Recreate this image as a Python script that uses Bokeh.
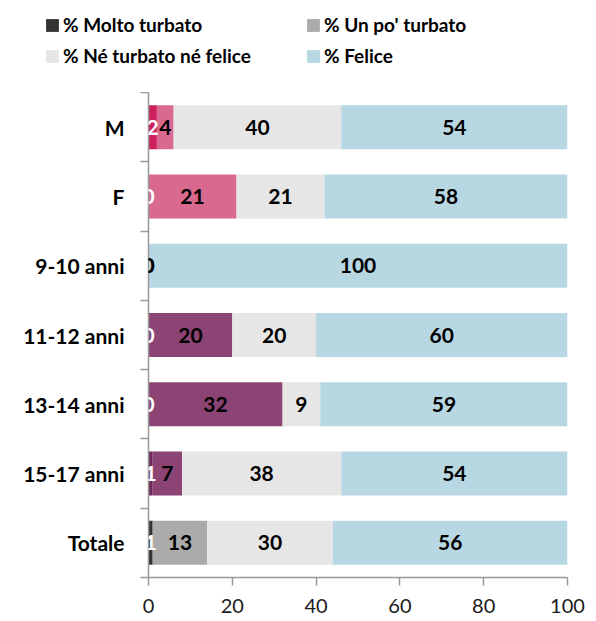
from bokeh.plotting import figure
from bokeh.models import (ColumnDataSource, Range1d, FixedTicker, LabelSet,
                          Legend, LegendItem)
from bokeh.layouts import column
from bokeh.core.properties import value
from bokeh.embed import file_html
from bokeh.resources import INLINE

# ---- data (bottom row first) ----
categories = ["Totale", "15-17 anni", "13-14 anni", "11-12 anni", "9-10 anni", "F", "M"]
molto = [1, 1, 0, 0, 0, 0, 2]
unpo = [13, 7, 32, 20, 0, 21, 4]
ne = [30, 38, 9, 20, 0, 21, 40]
felice = [56, 54, 59, 60, 100, 58, 54]
series_names = ["% Molto turbato", "% Un po' turbato", "% Né turbato né felice", "% Felice"]
x_ticks = [0, 20, 40, 60, 80, 100]

# per-row colours of the first two segments
c_molto = ["#333333", "#6e2a58", "#6e2a58", "#6e2a58", "#6e2a58", "#cc1f5e", "#cc1f5e"]
c_unpo = ["#ababab", "#8b4474", "#8b4474", "#8b4474", "#8b4474", "#d9698f", "#d9698f"]
c_ne = "#e6e6e6"
c_felice = "#b7d7e3"
legend_colors = [c_molto[0], c_unpo[0], c_ne, c_felice]

FONT = "Lato"
W, TOP_H, MAIN_H = 596, 92, 529

n = len(categories)
ys = [i + 0.5 for i in range(n)]
series = [molto, unpo, ne, felice]
lefts, rights = [], []
acc = [0] * n
for s in series:
    lefts.append(list(acc))
    acc = [a + v for a, v in zip(acc, s)]
    rights.append(list(acc))

data = dict(y=ys, c1=c_molto, c2=c_unpo)
for k in range(4):
    data[f"l{k}"] = lefts[k]
    data[f"r{k}"] = rights[k]
    data[f"m{k}"] = [(a + b) / 2 for a, b in zip(lefts[k], rights[k])]
    data[f"t{k}"] = [str(v) for v in series[k]]
src = ColumnDataSource(data)

# ---------------- legend strip ----------------
lf = figure(width=W, height=TOP_H, output_backend="svg", toolbar_location=None,
            x_range=Range1d(0, 1), y_range=Range1d(0, 1),
            x_axis_type=None, y_axis_type=None, frame_align=False,
            min_border_left=0, min_border_right=0, min_border_top=0, min_border_bottom=0)
lf.outline_line_color = None
lf.xgrid.visible = False
lf.ygrid.visible = False
# swatch renderers (their single bar lies far outside the visible range)
swatches = []
for c in legend_colors:
    swatches.append(lf.hbar(y=[-10], left=[-12], right=[-11], height=0.5,
                            fill_color=c, line_color=None))

def make_legend(idxs, x, y):
    items = [LegendItem(label=series_names[i], renderers=[swatches[i]]) for i in idxs]
    lg = Legend(items=items, location=(x, y), orientation="vertical",
                label_text_font=FONT, label_text_font_style="bold",
                label_text_font_size="19px", label_text_color="black",
                glyph_width=16, glyph_height=16, label_standoff=3,
                label_height=20, spacing=8, padding=0, margin=0,
                border_line_color=None, background_fill_alpha=0)
    lf.add_layout(lg, "center")

make_legend([0, 2], 44, 25)
make_legend([1, 3], 305, 25)

# ---------------- main chart ----------------
p = figure(width=W, height=MAIN_H, output_backend="svg", toolbar_location=None,
           x_range=Range1d(0, 100), y_range=Range1d(0, n), frame_align=False,
           min_border_left=148, min_border_right=29, min_border_top=0, min_border_bottom=44)
p.outline_line_color = None
p.xgrid.visible = False
p.ygrid.visible = False
p.background_fill_color = "white"

H = 0.635
fills = ["c1", "c2", c_ne, c_felice]
for k in range(4):
    p.hbar(y="y", left=f"l{k}", right=f"r{k}", height=H, source=src,
           fill_color=fills[k], line_color=None)

for k in range(4):
    ls = LabelSet(x=f"m{k}", y="y", text=f"t{k}", source=src,
                  text_align="center", text_baseline="middle",
                  text_font=value(FONT), text_font_style="bold", text_font_size="21px",
                  text_color="white" if k == 0 else "black")
    p.add_layout(ls)

# x axis
xa = p.xaxis[0]
xa.ticker = FixedTicker(ticks=x_ticks)
xa.axis_line_color = "#999999"
xa.axis_line_width = 1.5
xa.major_tick_line_color = "#999999"
xa.major_tick_line_width = 1.5
xa.major_tick_out = 8
xa.major_tick_in = 0
xa.minor_tick_line_color = None
xa.major_label_text_font = FONT
xa.major_label_text_font_size = "20px"
xa.major_label_text_color = "#1a1a1a"
xa.major_label_standoff = 13

# y axis: labels at row centres, ticks at row boundaries
ya = p.yaxis[0]
ya.ticker = FixedTicker(ticks=ys, minor_ticks=list(range(n + 1)))
ya.major_label_overrides = {y: c for y, c in zip(ys, categories)}
ya.axis_line_color = "#999999"
ya.axis_line_width = 1.5
ya.major_tick_out = 0
ya.major_tick_in = 0
ya.major_tick_line_color = None
ya.minor_tick_out = 8
ya.minor_tick_in = 0
ya.minor_tick_line_color = "#999999"
ya.minor_tick_line_width = 1.5
ya.major_label_text_font = FONT
ya.major_label_text_font_style = "bold"
ya.major_label_text_font_size = "21px"
ya.major_label_text_color = "black"
ya.major_label_standoff = 16

layout = column(lf, p, spacing=0)
open("out.html", "w").write(file_html(layout, INLINE))
